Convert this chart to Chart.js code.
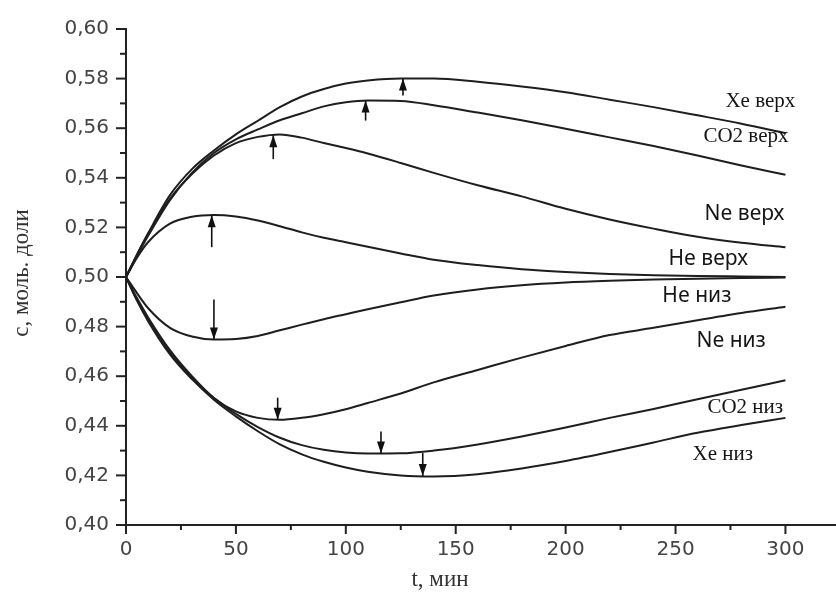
<!DOCTYPE html>
<html>
<head>
<meta charset="utf-8">
<script src="https://cdn.jsdelivr.net/npm/chart.js@4"></script>
<style>
  body { margin: 0; background: #fff; }
  #wrap { width: 836px; height: 596px; position: relative; }
</style>
</head>
<body>
<div id="wrap"><canvas id="chart"></canvas></div>
<script>
// time axis, minutes
const minutes = [0, 5, 10, 20, 30, 40, 50, 60, 70, 80, 90, 100, 110, 125, 140, 160, 180, 200, 220, 240, 260, 280, 300];

// mole fractions, upper and lower parts
const xeUp    = [0.500, 0.509, 0.5175, 0.533, 0.5435, 0.551, 0.5575, 0.563, 0.5685, 0.5728, 0.5758, 0.578, 0.5792, 0.5800, 0.5800, 0.5787, 0.5768, 0.5745, 0.5715, 0.5685, 0.5652, 0.5618, 0.558];
const co2Up   = [0.500, 0.5085, 0.5165, 0.531, 0.542, 0.550, 0.5555, 0.5595, 0.5632, 0.566, 0.5688, 0.5705, 0.5712, 0.5710, 0.5693, 0.5663, 0.5632, 0.5598, 0.5563, 0.5528, 0.549, 0.545, 0.5412];
const neUp    = [0.500, 0.509, 0.5172, 0.5315, 0.5415, 0.549, 0.554, 0.5565, 0.5575, 0.5562, 0.554, 0.552, 0.5498, 0.546, 0.542, 0.537, 0.5325, 0.5275, 0.5232, 0.5195, 0.5162, 0.5138, 0.512];
const heUp    = [0.500, 0.5078, 0.514, 0.5215, 0.5243, 0.5250, 0.5244, 0.5228, 0.5205, 0.518, 0.5158, 0.514, 0.5122, 0.5095, 0.507, 0.5048, 0.5031, 0.502, 0.5012, 0.5007, 0.5004, 0.5002, 0.5000];
const heDown  = [0.500, 0.4935, 0.4875, 0.4795, 0.476, 0.4748, 0.4750, 0.4762, 0.4785, 0.4808, 0.483, 0.485, 0.487, 0.4898, 0.4925, 0.495, 0.4967, 0.4978, 0.4985, 0.499, 0.4993, 0.4996, 0.4998];
const neDown  = [0.500, 0.4915, 0.4838, 0.4705, 0.460, 0.4512, 0.4458, 0.4432, 0.4424, 0.4432, 0.4447, 0.4467, 0.4492, 0.453, 0.4575, 0.4625, 0.4675, 0.4722, 0.4766, 0.4795, 0.4826, 0.4855, 0.488];
const co2Down = [0.500, 0.4908, 0.4828, 0.4695, 0.4595, 0.4512, 0.4448, 0.4395, 0.4352, 0.4322, 0.4303, 0.4292, 0.4288, 0.4289, 0.4300, 0.4325, 0.4357, 0.4393, 0.4432, 0.4468, 0.4507, 0.4545, 0.4584];
const xeDown  = [0.500, 0.4905, 0.4823, 0.4688, 0.4588, 0.4505, 0.4438, 0.4378, 0.4325, 0.4285, 0.4255, 0.4232, 0.4215, 0.4200, 0.4196, 0.4205, 0.4228, 0.4258, 0.4294, 0.4333, 0.4372, 0.4403, 0.4432];

const seriesNames = ['Xe верх', 'CO2 верх', 'Ne верх', 'He верх', 'He низ', 'Ne низ', 'CO2 низ', 'Xe низ'];
const seriesData = [xeUp, co2Up, neUp, heUp, heDown, neDown, co2Down, xeDown];
// time of the extremum marked by an arrow on each curve
const extremumT = [126, 109, 67, 39, 40, 69, 116, 135];

// label anchors (data units) and looks
const labelSpots = [
    { t: 272.7, v: 0.5708, serif: true },
    { t: 262.7, v: 0.5568, serif: true },
    { t: 263.2, v: 0.5252, serif: false },
    { t: 246.8, v: 0.5072, serif: false },
    { t: 244.0, v: 0.4924, serif: false },
    { t: 259.5, v: 0.4740, serif: false },
    { t: 264.5, v: 0.4472, serif: true },
    { t: 257.7, v: 0.4284, serif: true }
];
const arrowLen = [17, 20, 24, 32, 40, 22, 22, 23];

function valueAt(arr, t) {
    for (let i = 1; i < minutes.length; i++) {
        if (t <= minutes[i]) {
            const f = (t - minutes[i - 1]) / (minutes[i] - minutes[i - 1]);
            return arr[i - 1] + f * (arr[i] - arr[i - 1]);
        }
    }
    return arr[arr.length - 1];
}

const decor = {
    id: 'decor',
    afterDraw(chart) {
        const ctx = chart.ctx;
        const xs = chart.scales.x, ys = chart.scales.y;
        const area = chart.chartArea;
        ctx.save();
        ctx.strokeStyle = '#222';
        ctx.lineWidth = 2;
        // axis ticks, outward
        xs.ticks.forEach(tk => {
            if (tk.value % 25 !== 0) return;
            const px = xs.getPixelForValue(tk.value);
            const len = tk.value % 50 === 0 ? 9 : 5;
            ctx.beginPath();
            ctx.moveTo(px, area.bottom);
            ctx.lineTo(px, area.bottom + len);
            ctx.stroke();
        });
        ys.ticks.forEach(tk => {
            const py = ys.getPixelForValue(tk.value);
            const len = Math.round(tk.value * 100) % 2 === 0 ? 10 : 6;
            ctx.beginPath();
            ctx.moveTo(area.left, py);
            ctx.lineTo(area.left - len, py);
            ctx.stroke();
        });

        // arrows at the extrema
        ctx.fillStyle = '#111';
        ctx.strokeStyle = '#111';
        ctx.lineWidth = 1.6;
        seriesData.forEach((arr, i) => {
            const t = extremumT[i];
            const px = xs.getPixelForValue(t);
            const py = ys.getPixelForValue(valueAt(arr, t));
            const dir = i < 4 ? 1 : -1;  // tail side
            const tail = py + dir * arrowLen[i];
            ctx.beginPath();
            ctx.moveTo(px, tail);
            ctx.lineTo(px, py);
            ctx.stroke();
            ctx.beginPath();
            ctx.moveTo(px, py);
            ctx.lineTo(px - 4, py + dir * 12);
            ctx.lineTo(px + 4, py + dir * 12);
            ctx.closePath();
            ctx.fill();
        });

        // curve labels
        ctx.textBaseline = 'middle';
        ctx.textAlign = 'left';
        seriesNames.forEach((name, i) => {
            const s = labelSpots[i];
            ctx.font = s.serif ? '21px "Liberation Serif"' : '21px "Noto Sans"';
            ctx.fillStyle = '#151515';
            ctx.fillText(name, xs.getPixelForValue(s.t), ys.getPixelForValue(s.v));
        });

        // axis titles
        ctx.font = '23px "Liberation Serif"';
        ctx.fillStyle = '#333';
        ctx.textAlign = 'center';
        ctx.fillText('t, мин', 440, 580);
        ctx.translate(22, 273);
        ctx.rotate(-Math.PI / 2);
        ctx.fillText('с, моль. доли', 0, 0);
        ctx.restore();
    }
};

const datasets = seriesNames.map((name, i) => ({
    label: name,
    data: minutes.map((t, j) => ({ x: t, y: seriesData[i][j] })),
    borderColor: '#1e1e1e',
    borderWidth: 2,
    pointRadius: 0,
    fill: false,
    cubicInterpolationMode: 'monotone'
}));

new Chart(document.getElementById('chart').getContext('2d'), {
    type: 'line',
    data: { datasets },
    options: {
        responsive: true,
        maintainAspectRatio: false,
        animation: false,
        layout: { padding: { top: 25, right: 0, left: 0, bottom: 0 } },
        plugins: { legend: { display: false }, tooltip: { enabled: false } },
        scales: {
            x: {
                type: 'linear',
                min: 0,
                max: 323,
                afterFit: s => { s.height = 71; },
                grid: { display: false, drawTicks: false },
                border: { display: true, color: '#222', width: 2 },
                ticks: {
                    stepSize: 25,
                    includeBounds: false,
                    autoSkip: false,
                    maxRotation: 0,
                    padding: 13,
                    color: '#444',
                    font: { family: 'DejaVu Sans', size: 20 },
                    callback: v => (v % 50 === 0 ? String(v) : '')
                }
            },
            y: {
                min: 0.40,
                max: 0.60,
                afterFit: s => { s.width = 126; },
                grid: { display: false, drawTicks: false },
                border: { display: true, color: '#222', width: 2 },
                ticks: {
                    stepSize: 0.01,
                    includeBounds: false,
                    autoSkip: false,
                    padding: 17,
                    color: '#444',
                    font: { family: 'DejaVu Sans', size: 20 },
                    callback: v => (Math.round(v * 100) % 2 === 0 ? v.toFixed(2).replace('.', ',') : '')
                }
            }
        }
    },
    plugins: [decor]
});
</script>
</body>
</html>
